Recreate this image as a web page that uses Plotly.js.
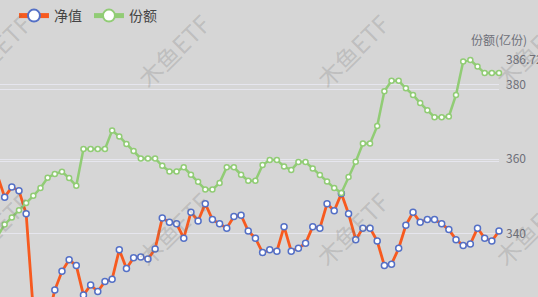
<!DOCTYPE html>
<html>
<head>
<meta charset="utf-8">
<script src="https://cdn.plot.ly/plotly-3.0.1.min.js"></script>
<style>html,body{margin:0;padding:0;background:#d6d6d6;}#chart{width:538px;height:297px;}</style>
</head>
<body>
<div id="chart"></div>
<script>
// Category positions (trading days, visible window)
const days = [-1,0,1,2,3,4,5,6,7,8,9,10,11,12,13,14,15,16,17,18,19,20,21,22,23,24,25,26,27,28,29,30,31,32,33,34,35,36,37,38,39,40,41,42,43,44,45,46,47,48,49,50,51,52,53,54,55,56,57,58,59,60,61,62,63,64,65,66,67,68,69];

// 净值 (left axis)
const navValues = [0.9880,0.9850,0.9864,0.9859,0.9827,0.9692,0.9673,0.9680,0.9721,0.9747,0.9763,0.9755,0.9714,0.9728,0.9719,0.9733,0.9736,0.9777,0.9751,0.9766,0.9767,0.9764,0.9778,0.9821,0.9815,0.9813,0.9793,0.9829,0.9817,0.9841,0.9819,0.9813,0.9807,0.9823,0.9825,0.9803,0.9793,0.9773,0.9777,0.9775,0.9809,0.9775,0.9779,0.9786,0.9809,0.9807,0.9841,0.9831,0.9855,0.9827,0.9791,0.9807,0.9807,0.9789,0.9755,0.9757,0.9779,0.9811,0.9829,0.9815,0.9819,0.9819,0.9813,0.9805,0.9791,0.9783,0.9785,0.9807,0.9793,0.9789,0.9803];

// 份额 (亿份, right axis)
const shareValues = [339.2,342.4,344.3,346.2,348.2,350.1,352.2,355.0,356.0,356.6,354.9,352.8,362.7,362.7,362.7,362.7,367.7,366.1,364.1,362.2,360.2,360.2,360.2,358.2,356.7,356.7,357.8,355.8,353.9,351.8,351.8,353.6,357.8,357.8,355.8,354.2,354.2,358.4,359.8,359.8,358.0,357.1,359.2,359.2,357.5,355.7,354.0,352.2,350.9,355.2,359.3,364.2,364.2,368.9,378.3,381.1,381.1,379.1,377.3,375.1,373.2,371.3,371.3,371.5,377.3,386.3,386.72,385.0,383.2,383.2,383.2];

const shareTicks = [340, 360, 380, 386.72];
const shareTickText = ['340', '360', '380', '386.72'];
const navTicks = [0.98, 0.99, 1.00];

const seriesNames = ['净值', '份额'];
const axisName = '份额(亿份)';
const watermarkText = '木鱼ETF';

const FONT = '"Noto Sans CJK SC", "Noto Sans", sans-serif';

const traces = [
  {
    x: days, y: shareValues, name: seriesNames[1], yaxis: 'y2',
    type: 'scatter', mode: 'lines+markers', legendrank: 2, cliponaxis: false,
    line: {color: '#91cc75', width: 2.5},
    marker: {symbol: 'circle', size: 5, color: '#ffffff', line: {color: '#91cc75', width: 1.5}}
  },
  {
    x: days, y: navValues, name: seriesNames[0], yaxis: 'y',
    type: 'scatter', mode: 'lines+markers', legendrank: 1, cliponaxis: false,
    line: {color: '#f75a1f', width: 2.8},
    marker: {symbol: 'circle', size: 6, color: '#ffffff', line: {color: '#5470c6', width: 1.5}}
  }
];

// watermark annotations
const wmPos = [[-6,49],[173,49],[352,49],[531,49],[-6,228],[173,228],[352,228],[531,228]];
const PW = 499, PT = 59, PH = 238;
const annotations = wmPos.map(p => ({
  text: watermarkText, xref: 'paper', yref: 'paper',
  x: p[0] / PW, y: 1 + (PT - p[1]) / PH, xanchor: 'center', yanchor: 'middle',
  showarrow: false, textangle: -45,
  font: {family: FONT, size: 24, color: 'rgba(110,110,110,0.24)'}
}));
annotations.push({
  text: axisName, xref: 'paper', yref: 'paper', x: 1, y: 1 + (PT - 38) / PH,
  xanchor: 'center', yanchor: 'middle', showarrow: false,
  font: {family: FONT, size: 12, color: '#6e7079'}
});

const layout = {
  width: 538, height: 297,
  margin: {l: 0, r: 39, t: PT, b: 0, pad: 0},
  paper_bgcolor: '#d6d6d6', plot_bgcolor: '#d6d6d6',
  font: {family: FONT, color: '#6e7079', size: 12},
  showlegend: true,
  legend: {orientation: 'h', x: 0.028, xanchor: 'left', y: 1 + (PT - 15) / PH, yanchor: 'middle',
           bgcolor: 'rgba(0,0,0,0)', font: {family: FONT, size: 14, color: '#444'}, itemwidth: 30,
           itemsizing: 'constant', entrywidth: 30, entrywidthmode: 'pixels'},
  xaxis: {range: [-0.65, 69], showgrid: false, zeroline: false, showticklabels: false, ticks: '', showline: false, fixedrange: true},
  yaxis: {range: [0.971134, 1.004053], tickvals: navTicks, showticklabels: false, ticks: '',
          showgrid: true, gridcolor: '#e6e6ee', gridwidth: 1, zeroline: false, showline: false},
  yaxis2: {range: [322.84, 386.72], overlaying: 'y', side: 'right', tickvals: shareTicks, ticktext: shareTickText,
           showgrid: true, gridcolor: '#e6e6ee', gridwidth: 1, zeroline: false, showline: false, ticks: '',
           ticklabelstandoff: 6, tickfont: {family: FONT, size: 12, color: '#6e7079'}},
  annotations: annotations
};

Plotly.newPlot('chart', traces, layout, {staticPlot: true, displayModeBar: false});
</script>
</body>
</html>
